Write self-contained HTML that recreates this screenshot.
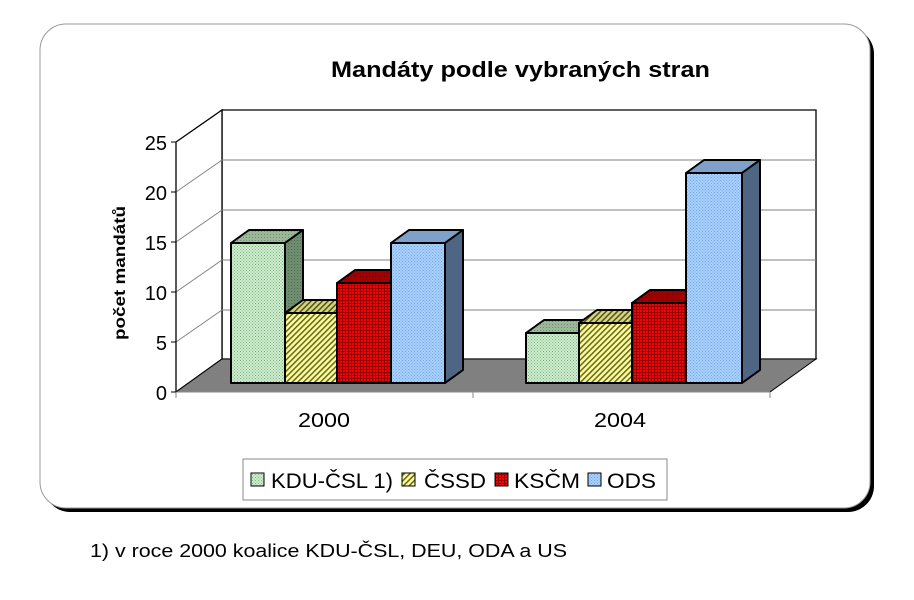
<!DOCTYPE html>
<html><head><meta charset="utf-8"><style>
html,body{margin:0;padding:0;background:#fff;}
svg{display:block;font-family:"Liberation Sans",sans-serif;}
</style></head><body>
<svg width="914" height="600" viewBox="0 0 914 600" xmlns="http://www.w3.org/2000/svg">
<defs>
<pattern id="pg" width="3" height="3" patternUnits="userSpaceOnUse"><rect width="3" height="3" fill="#cfeecf"/><rect width="1" height="1" fill="#7fae7f"/><rect x="1.5" y="1.5" width="1" height="1" fill="#7fae7f"/></pattern>
<pattern id="pgs" width="3" height="3" patternUnits="userSpaceOnUse"><rect width="3" height="3" fill="#6e8c6e"/><rect width="1" height="1" fill="#4f6a4f"/></pattern>
<pattern id="pgt" width="3" height="3" patternUnits="userSpaceOnUse"><rect width="3" height="3" fill="#98b898"/><rect width="1" height="1" fill="#6f8f6f"/></pattern>
<pattern id="py" width="4" height="4" patternUnits="userSpaceOnUse" patternTransform="rotate(45)"><rect width="4" height="4" fill="#ffff99"/><rect width="1.6" height="4" fill="#6b6b2a"/></pattern>
<pattern id="pyt" width="4" height="4" patternUnits="userSpaceOnUse" patternTransform="rotate(45)"><rect width="4" height="4" fill="#d8d880"/><rect width="1.6" height="4" fill="#55551e"/></pattern>
<pattern id="pr" width="3" height="3" patternUnits="userSpaceOnUse"><rect width="3" height="3" fill="#e8080a"/><rect width="3" height="1" fill="#900"/><rect width="1" height="3" fill="#900"/></pattern>
<pattern id="prs" width="3" height="3" patternUnits="userSpaceOnUse"><rect width="3" height="3" fill="#a00000"/><rect width="1" height="1" fill="#600"/></pattern>
<pattern id="pb" width="3" height="3" patternUnits="userSpaceOnUse"><rect width="3" height="3" fill="#a6d0ff"/><rect width="1" height="1" fill="#7fa8d8"/><rect x="1.5" y="1.5" width="1" height="1" fill="#7fa8d8"/></pattern>
</defs>
<rect x="44" y="28" width="830" height="484" rx="26" fill="#000"/>
<rect x="40" y="24" width="830" height="484" rx="26" fill="#fff" stroke="#999" stroke-width="1"/>
<text x="331" y="77" font-size="22" font-weight="bold" textLength="379" lengthAdjust="spacingAndGlyphs">Mandáty podle vybraných stran</text>
<polygon points="222,110 816,110 816,359 222,359" fill="#fff" stroke="#000" stroke-width="1.3"/>
<polygon points="176,142 222,110 222,359 176,392" fill="#fff" stroke="#000" stroke-width="1.3"/>
<g stroke="#808080" stroke-width="1">
<line x1="222" y1="160" x2="816" y2="160"/><line x1="222" y1="210" x2="816" y2="210"/><line x1="222" y1="260" x2="816" y2="260"/><line x1="222" y1="310" x2="816" y2="310"/>
<line x1="176" y1="192" x2="222" y2="160"/><line x1="176" y1="242" x2="222" y2="210"/><line x1="176" y1="292" x2="222" y2="260"/><line x1="176" y1="342" x2="222" y2="310"/>
</g>
<polygon points="176,392 222,359 816,359 770,392" fill="#808080" stroke="#000" stroke-width="1"/>
<line x1="176" y1="392" x2="770" y2="392" stroke="#888" stroke-width="1"/>
<g stroke="#000" stroke-width="1">
<line x1="176" y1="142" x2="176" y2="392"/>
<line x1="171" y1="142" x2="176" y2="142"/><line x1="171" y1="192" x2="176" y2="192"/><line x1="171" y1="242" x2="176" y2="242"/><line x1="171" y1="292" x2="176" y2="292"/><line x1="171" y1="342" x2="176" y2="342"/><line x1="171" y1="392" x2="176" y2="392"/>
</g>
<g stroke="#888"><line x1="176" y1="392" x2="176" y2="398"/><line x1="473" y1="392" x2="473" y2="398"/><line x1="770" y1="392" x2="770" y2="398"/></g>
<g font-size="20" text-anchor="end">
<text x="167" y="150">25</text><text x="167" y="200">20</text><text x="167" y="250">15</text><text x="167" y="300">10</text><text x="167" y="350">5</text><text x="167" y="400">0</text>
</g>
<text transform="translate(125,273) rotate(-90)" font-size="16" font-weight="bold" text-anchor="middle" textLength="134" lengthAdjust="spacingAndGlyphs">počet mandátů</text>
<text x="298" y="427" font-size="20" textLength="52" lengthAdjust="spacingAndGlyphs">2000</text>
<text x="594" y="427" font-size="20" textLength="52" lengthAdjust="spacingAndGlyphs">2004</text>
<g stroke="#000" stroke-width="2" stroke-linejoin="round">
<polygon points="231,243 249,230 303,230 285,243" fill="url(#pgt)"/><polygon points="285,243 303,230 303,370 285,383" fill="url(#pgs)"/><rect x="231" y="243" width="54" height="140" fill="url(#pg)"/>
<polygon points="285,313 303,300 355,300 337,313" fill="url(#pyt)"/><rect x="285" y="313" width="52" height="70" fill="url(#py)"/>
<polygon points="337,283 355,270 409,270 391,283" fill="url(#prs)"/><rect x="337" y="283" width="54" height="100" fill="url(#pr)"/>
<polygon points="391,243 409,230 463,230 445,243" fill="#7fa0c8"/><polygon points="445,243 463,230 463,370 445,383" fill="#4f6584"/><rect x="391" y="243" width="54" height="140" fill="url(#pb)"/>
<polygon points="526,333 544,320 597,320 579,333" fill="url(#pgt)"/><rect x="526" y="333" width="53" height="50" fill="url(#pg)"/>
<polygon points="579,323 597,310 650,310 632,323" fill="url(#pyt)"/><rect x="579" y="323" width="53" height="60" fill="url(#py)"/>
<polygon points="632,303 650,290 704,290 686,303" fill="url(#prs)"/><rect x="632" y="303" width="54" height="80" fill="url(#pr)"/>
<polygon points="686,173 704,160 760,160 742,173" fill="#7fa0c8"/><polygon points="742,173 760,160 760,370 742,383" fill="#4f6584"/><rect x="686" y="173" width="56" height="210" fill="url(#pb)"/>
</g>
<rect x="243" y="459" width="424" height="41" fill="#fff" stroke="#888" stroke-width="1"/>
<g stroke="#000" stroke-width="1">
<rect x="251" y="473" width="13" height="13" fill="url(#pg)"/>
<rect x="402" y="473" width="13" height="13" fill="url(#py)"/>
<rect x="495" y="473" width="13" height="13" fill="url(#pr)"/>
<rect x="588" y="473" width="13" height="13" fill="url(#pb)"/>
</g>
<g font-size="21">
<text x="271" y="488" textLength="122" lengthAdjust="spacingAndGlyphs">KDU-ČSL 1)</text>
<text x="424" y="488" textLength="62" lengthAdjust="spacingAndGlyphs">ČSSD</text>
<text x="514" y="488" textLength="66" lengthAdjust="spacingAndGlyphs">KSČM</text>
<text x="607" y="488" textLength="49" lengthAdjust="spacingAndGlyphs">ODS</text>
</g>
<text x="90" y="557" font-size="18" textLength="477" lengthAdjust="spacingAndGlyphs">1) v roce 2000 koalice KDU-ČSL, DEU, ODA a US</text>
</svg>
</body></html>
